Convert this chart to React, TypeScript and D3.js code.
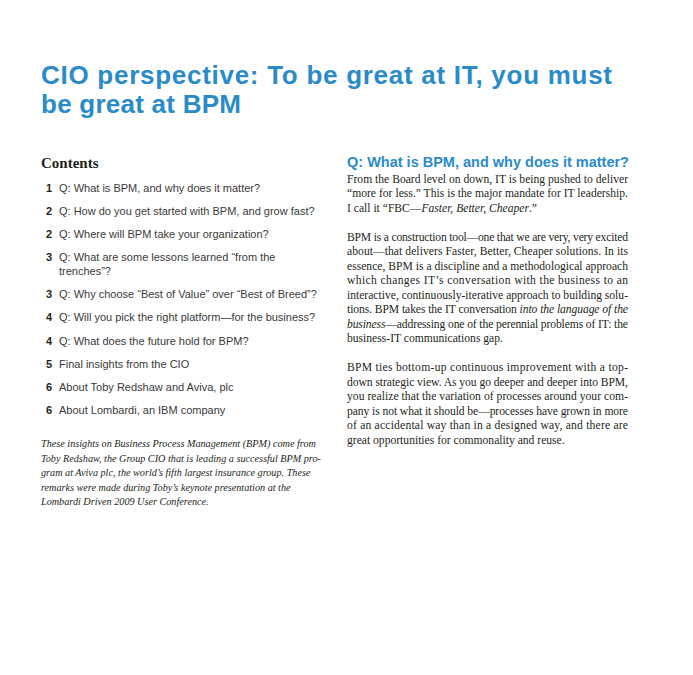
import React, { useEffect } from "react";
import * as d3 from "d3";

const titleLines = ["CIO perspective: To be great at IT, you must", "be great at BPM"];
const titleWidths = [571, 200];
const contentsHeading = "Contents";
const contentsNumbers = ["1", "2", "2", "3", "3", "4", "4", "5", "6", "6"];
const contentsItems: string[][] = [
  ["Q: What is BPM, and why does it matter?"],
  ["Q: How do you get started with BPM, and grow fast?"],
  ["Q: Where will BPM take your organization?"],
  ["Q: What are some lessons learned \u201cfrom the", "trenches\u201d?"],
  ["Q: Why choose \u201cBest of Value\u201d over \u201cBest of Breed\u201d?"],
  ["Q: Will you pick the right platform\u2014for the business?"],
  ["Q: What does the future hold for BPM?"],
  ["Final insights from the CIO"],
  ["About Toby Redshaw and Aviva, plc"],
  ["About Lombardi, an IBM company"],
];
const introLines = [
  "These insights on Business Process Management (BPM) come from",
  "Toby Redshaw, the Group CIO that is leading a successful BPM pro-",
  "gram at Aviva plc, the world\u2019s fifth largest insurance group. These",
  "remarks were made during Toby\u2019s keynote presentation at the",
  "Lombardi Driven 2009 User Conference.",
];
const sectionHeading = "Q: What is BPM, and why does it matter?";
type Seg = [string, boolean];
const bodyParagraphs: { segs: Seg[]; just: boolean }[][] = [
  [
    { segs: [["From the Board level on down, IT is being pushed to deliver", false]], just: true },
    { segs: [["\u201cmore for less.\u201d This is the major mandate for IT leadership.", false]], just: true },
    { segs: [["I call it \u201cFBC\u2014", false], ["Faster, Better, Cheaper", true], [".\u201d", false]], just: false },
  ],
  [
    { segs: [["BPM is a construction tool\u2014one that we are very, very excited", false]], just: true },
    { segs: [["about\u2014that delivers Faster, Better, Cheaper solutions. In its", false]], just: true },
    { segs: [["essence, BPM is a discipline and a methodological approach", false]], just: true },
    { segs: [["which changes IT\u2019s conversation with the business to an", false]], just: true },
    { segs: [["interactive, continuously-iterative approach to building solu-", false]], just: true },
    { segs: [["tions. BPM takes the IT conversation ", false], ["into the language of the", true]], just: true },
    { segs: [["business", true], ["\u2014addressing one of the perennial problems of IT: the", false]], just: true },
    { segs: [["business-IT communications gap.", false]], just: false },
  ],
  [
    { segs: [["BPM ties bottom-up continuous improvement with a top-", false]], just: true },
    { segs: [["down strategic view. As you go deeper and deeper into BPM,", false]], just: true },
    { segs: [["you realize that the variation of processes around your com-", false]], just: true },
    { segs: [["pany is not what it should be\u2014processes have grown in more", false]], just: true },
    { segs: [["of an accidental way than in a designed way, and there are", false]], just: true },
    { segs: [["great opportunities for commonality and reuse.", false]], just: false },
  ],
];

const BLUE = "#2a8bc8";
const INK = "#231f20";
const GRAY = "#3a3a3a";

export default function App() {
  useEffect(() => {
    document.body.style.margin = "0";
  }, []);
  const W = 693;
  const H = 675;

  const titleY = d3.scaleLinear().domain([0, 1]).range([83.5, 113]);

  const rows: { num: string; lines: string[]; y: number }[] = [];
  let y = 191.5;
  contentsItems.forEach((lines, i) => {
    rows.push({ num: contentsNumbers[i], lines, y });
    y += 23.2 + (lines.length - 1) * 13.8;
  });

  const introY = d3.scaleLinear().domain([0, 1]).range([447, 461.5]);

  const bodyLines: { segs: Seg[]; just: boolean; y: number }[] = [];
  let by = 182.5;
  bodyParagraphs.forEach((p) => {
    p.forEach((l) => {
      bodyLines.push({ ...l, y: by });
      by += 14.5;
    });
    by += 14.5;
  });

  const colX = 347;
  const colW = 281;

  return (
    <svg width={W} height={H} style={{ display: "block", background: "#fff" }}>
      <rect x={0} y={0} width={W} height={H} fill="#ffffff" />
      {titleLines.map((t, i) => (
        <text
          key={i}
          x={41}
          y={titleY(i)}
          fill={BLUE}
          fontFamily="Liberation Sans, Arial, sans-serif"
          fontWeight="bold"
          fontSize={26}
          textLength={titleWidths[i]}
          lengthAdjust="spacing"
        >
          {t}
        </text>
      ))}
      <text x={41} y={168} fill={INK} fontFamily="Liberation Serif, serif" fontWeight="bold" fontSize={15}>
        {contentsHeading}
      </text>
      {rows.map((r, i) => (
        <g key={i}>
          <text x={52} y={r.y} textAnchor="end" fill={INK} fontFamily="Liberation Sans, Arial, sans-serif" fontWeight="bold" fontSize={11}>
            {r.num}
          </text>
          {r.lines.map((l, j) => (
            <text key={j} x={59} y={r.y + j * 13.8} fill={GRAY} fontFamily="Liberation Sans, Arial, sans-serif" fontSize={11}>
              {l}
            </text>
          ))}
        </g>
      ))}
      {introLines.map((l, i) => (
        <text key={i} x={41} y={introY(i)} fill={INK} fontFamily="Liberation Serif, serif" fontStyle="italic" fontSize={10.2}>
          {l}
        </text>
      ))}
      <text x={colX} y={166.5} fill={BLUE} fontFamily="Liberation Sans, Arial, sans-serif" fontWeight="bold" fontSize={14.5}>
        {sectionHeading}
      </text>
      {bodyLines.map((l, i) => (
        <text
          key={i}
          x={colX}
          y={l.y}
          fill={INK}
          fontFamily="Liberation Serif, serif"
          fontSize={11.6}
          {...(l.just ? { textLength: colW, lengthAdjust: "spacing" } : {})}
        >
          {l.segs.map((s, j) => (
            <tspan key={j} fontStyle={s[1] ? "italic" : "normal"}>
              {s[0]}
            </tspan>
          ))}
        </text>
      ))}
    </svg>
  );
}
